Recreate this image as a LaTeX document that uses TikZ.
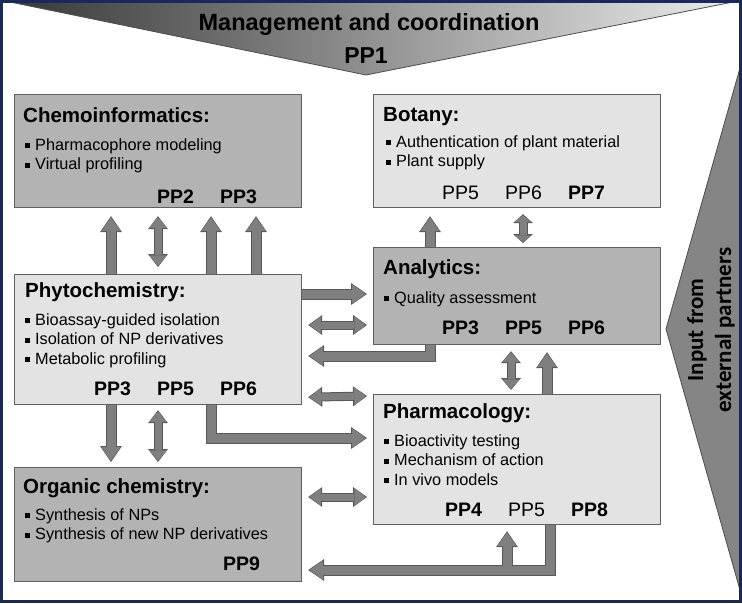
\documentclass[tikz,border=0pt]{standalone}
\usepackage{fontspec}
\setmainfont{Liberation Sans}
\newfontfamily\calibrifont{Carlito}
\usetikzlibrary{arrows.meta}
\definecolor{framecol}{RGB}{25,43,82}
\definecolor{boxdark}{RGB}{179,179,179}
\definecolor{boxlight}{RGB}{227,227,227}
\definecolor{boxline}{RGB}{96,96,96}
\definecolor{arrowfill}{RGB}{127,127,127}
\definecolor{arrowline}{RGB}{88,88,88}
\newcommand\bul{\rule[2pt]{4.8pt}{4.8pt}\hspace{5.2pt}}
\newcommand\ppslot[1]{\makebox[63pt][l]{#1}}
\tikzset{
% Work package boxes: dark and light
dark box/.style={rectangle,draw=boxline,line width=1.2pt,fill=boxdark,anchor=north west,minimum width=287pt,inner sep=0pt},
light box/.style={dark box,fill=boxlight},
% Texts inside the boxes
box title/.style={anchor=base west,inner sep=0pt,font=\fontsize{20.5}{24}\selectfont\bfseries},
box item/.style={anchor=base west,inner sep=0pt,font=\fontsize{16.3}{19.5}\selectfont},
box pp/.style={anchor=base west,inner sep=0pt,font=\fontsize{19.5}{23}\selectfont},
% Fat grey arrows: outline first, body on top
arrow edge/.style={draw=arrowline,line width=11pt,line join=miter,shorten >=0pt,shorten <=0pt},
arrow body/.style={draw=arrowfill,line width=9pt,line join=miter},
edge only/.style={arrow edge,-{Triangle[width=22pt,length=16pt,line width=0pt]}},
body only/.style={arrow body,shorten >=1.3pt,-{Triangle[width=19pt,length=13.5pt,line width=0pt]}},
one way/.style={body only,preaction={edge only}},
% double arrows, #1 is the head length
two way/.style={draw=arrowfill,line width=7pt,shorten >=1.2pt,shorten <=1.2pt,
  {Triangle[width=17.5pt,length=#1-2.5pt,line width=0pt]}-{Triangle[width=17.5pt,length=#1-2.5pt,line width=0pt]},
  preaction={draw=arrowline,line width=9pt,shorten >=0pt,shorten <=0pt,
  {Triangle[width=20pt,length=#1,line width=0pt]}-{Triangle[width=20pt,length=#1,line width=0pt]}}},
two way/.default=13pt
}

\begin{document}
\begin{tikzpicture}[x=1pt,y=-1pt]
      \useasboundingbox (0,0) rectangle (742,603);
      % Banners
      \fill[white] (0,0) rectangle (742,603);
      \draw[draw=black!70,line width=0.8pt,left color=black!78,right color=black!8]
        (10,2) -- (733,2) -- (366,75) -- cycle;
      \node[anchor=base,font=\fontsize{23.5}{28}\selectfont\bfseries] (mgmt) at (369,30) {Management and coordination};
      \node[anchor=base,font=\fontsize{23}{28}\selectfont\bfseries] (pp1) at (366,63) {PP1};
      \draw[draw=black!70,line width=0.8pt,fill=black!48] (740,68) -- (666,329) -- (740,590) -- cycle;
      \node[rotate=90,align=center,font=\calibrifont\fontsize{23}{28}\selectfont\bfseries] (input) at (711,330) {Input from\\external partners};
      % The boxes
      \node[dark box,minimum height=113pt] (chemo) at (14,94) {};
      \node[light box,minimum height=113pt] (botany) at (373,94) {};
      \node[light box,minimum height=130pt] (phyto) at (14,274) {};
      \node[dark box,minimum height=97pt] (analytics) at (373,247) {};
      \node[light box,minimum height=130pt] (pharma) at (373,394) {};
      \node[dark box,minimum height=114pt] (organic) at (14,467) {};
      % Chemoinformatics
      \node[box title] (chemo-t) at ([shift={(9,28)}]chemo.north west) {Chemoinformatics:};
      \foreach \t [count=\i] in {Pharmacophore modeling,Virtual profiling}
        \node[box item] (chemo-\i) at ([shift={(11,{36.5+19.5*\i})}]chemo.north west) {\bul\t};
      \node[box pp] (chemo-pp) at ([shift={(143,109)}]chemo.north west) {\ppslot{\bfseries PP2}\bfseries PP3};
      % Botany
      \node[box title] (botany-t) at ([shift={(10,27)}]botany.north west) {Botany:};
      \foreach \t [count=\i] in {Authentication of plant material,Plant supply}
        \node[box item] (botany-\i) at ([shift={(13,{33.5+19.5*\i})}]botany.north west) {\bul\t};
      \node[box pp] (botany-pp) at ([shift={(69,105)}]botany.north west) {\ppslot{PP5}\ppslot{PP6}\bfseries PP7};
      % Phytochemistry
      \node[box title] (phyto-t) at ([shift={(11,23)}]phyto.north west) {Phytochemistry:};
      \foreach \t [count=\i] in {Bioassay-guided isolation,Isolation of NP derivatives,Metabolic profiling}
        \node[box item] (phyto-\i) at ([shift={(11,{31.5+19.5*\i})}]phyto.north west) {\bul\t};
      \node[box pp] (phyto-pp) at ([shift={(80,121)}]phyto.north west) {\bfseries\ppslot{PP3}\ppslot{PP5}PP6};
      % Analytics
      \node[box title] (analytics-t) at ([shift={(10,27)}]analytics.north west) {Analytics:};
      \node[box item] (analytics-1) at ([shift={(11,56)}]analytics.north west) {\bul Quality assessment};
      \node[box pp] (analytics-pp) at ([shift={(69,87)}]analytics.north west) {\bfseries\ppslot{PP3}\ppslot{PP5}PP6};
      % Pharmacology
      \node[box title] (pharma-t) at ([shift={(10,24)}]pharma.north west) {Pharmacology:};
      \foreach \t [count=\i] in {Bioactivity testing,Mechanism of action,In vivo models}
        \node[box item] (pharma-\i) at ([shift={(11,{32.5+19.5*\i})}]pharma.north west) {\bul\t};
      \node[box pp] (pharma-pp) at ([shift={(72,122)}]pharma.north west) {\ppslot{\bfseries PP4}\ppslot{PP5}\bfseries PP8};
      % Organic chemistry
      \node[box title] (organic-t) at ([shift={(9,26)}]organic.north west) {Organic chemistry:};
      \foreach \t [count=\i] in {Synthesis of NPs,Synthesis of new NP derivatives}
        \node[box item] (organic-\i) at ([shift={(11,{33.5+19.5*\i})}]organic.north west) {\bul\t};
      \node[box pp] (organic-pp) at ([shift={(209,103)}]organic.north west) {\bfseries PP9};
      % Arrows between Phytochemistry and Chemoinformatics
      \foreach \dx in {97,197,242}
        \draw[one way] ([xshift=\dx]phyto.north west) -- ([xshift=\dx,yshift=-8]chemo.south west);
      \draw[two way] ([xshift=144,yshift=7]phyto.north west) -- ([xshift=144,yshift=-8]chemo.south west);
      % Analytics and Botany
      \draw[one way] ([xshift=57]analytics.north west) -- ([xshift=57,yshift=-8]botany.south west);
      \draw[two way=9pt] ([xshift=150,yshift=4]analytics.north west) -- ([xshift=150,yshift=-6]botany.south west);
      % Phytochemistry and the right column
      \draw[one way] ([yshift=-20]phyto.north east) -- ([xshift=-6,yshift=-47]analytics.north west);
      \draw[two way=14pt] ([xshift=6,yshift=-51]phyto.north east) -- ([xshift=-6,yshift=-78]analytics.north west);
      \draw[one way] ([xshift=57]analytics.south west) |- ([xshift=6,yshift=-82]phyto.north east);
      \draw[two way=14pt] ([xshift=6,yshift=8]phyto.south east) -- ([xshift=-6,yshift=-2]pharma.north west);
      \draw[one way] ([xshift=197]phyto.south west) |- ([xshift=-6,yshift=-44]pharma.north west);
      % Phytochemistry and Organic chemistry
      \draw[one way] ([xshift=97]phyto.south west) -- ([xshift=97,yshift=5]organic.north west);
      \draw[two way] ([xshift=144,yshift=-5]phyto.south west) -- ([xshift=144,yshift=5]organic.north west);
      % Analytics and Pharmacology
      \draw[two way=12pt] ([xshift=138,yshift=-6]analytics.south west) -- ([xshift=138,yshift=4]pharma.north west);
      \draw[one way] ([xshift=174]pharma.north west) -- ([xshift=174,yshift=-7]analytics.south west);
      % Organic chemistry and Pharmacology
      \draw[two way=14pt] ([xshift=6,yshift=-30]organic.north east) -- ([xshift=-6,yshift=-103]pharma.north west);
      \coordinate (tee) at ([xshift=134,yshift=-46]pharma.south west);
      \draw[edge only] ([xshift=177]pharma.south west) |- ([xshift=6,yshift=-103]organic.north east);
      \draw[edge only] (tee) -- ([xshift=134,yshift=-6]pharma.south west);
      \draw[body only] ([xshift=177]pharma.south west) |- ([xshift=6,yshift=-103]organic.north east);
      \draw[body only] (tee) -- ([xshift=134,yshift=-6]pharma.south west);
      % Frame
      \draw[framecol,line width=3pt] (1.5,1.5) rectangle (740.5,601.5);
\end{tikzpicture}
\end{document}
